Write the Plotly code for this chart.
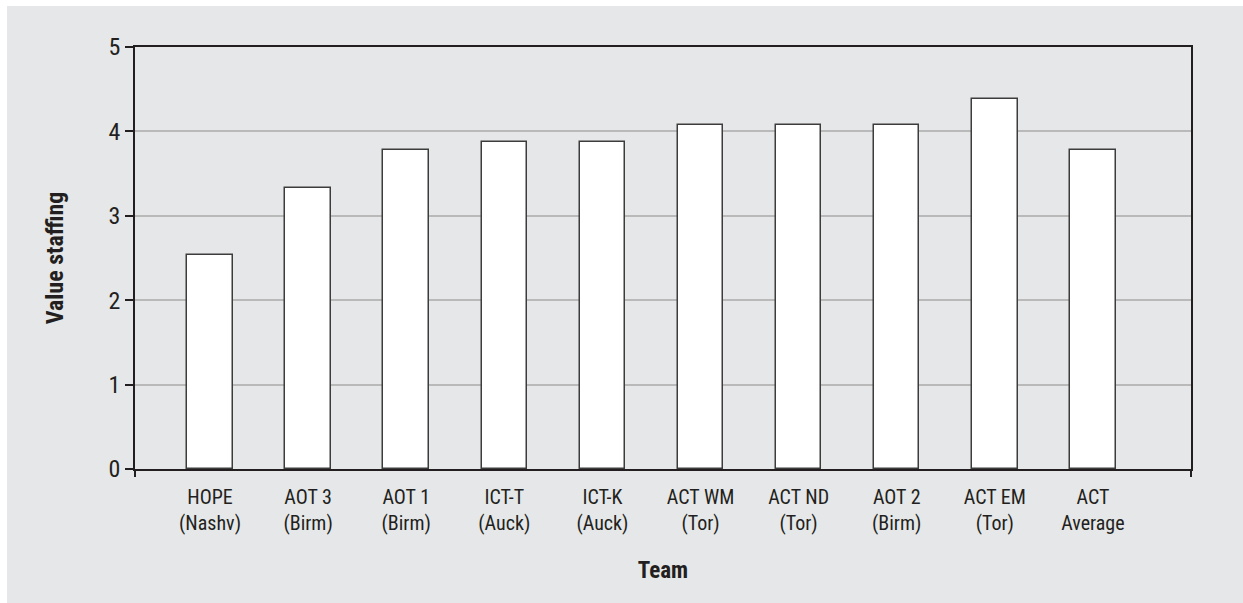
import plotly.graph_objects as go

# Team scores on the value-staffing scale
teams = ["HOPE<br>(Nashv)", "AOT 3<br>(Birm)", "AOT 1<br>(Birm)", "ICT-T<br>(Auck)",
         "ICT-K<br>(Auck)", "ACT WM<br>(Tor)", "ACT ND<br>(Tor)", "AOT 2<br>(Birm)",
         "ACT EM<br>(Tor)", "ACT<br>Average"]
scores = [2.54, 3.33, 3.78, 3.88, 3.88, 4.08, 4.08, 4.08, 4.38, 3.78]
y_ticks = [0, 1, 2, 3, 4, 5]

FONT = "Liberation Sans Narrow, Arial Narrow, Roboto Condensed, Liberation Sans, sans-serif"
INK = "#231f20"
BG = "#e6e7e8"

W, H = 1243, 603
L, R, T, B = 135, 52, 47, 134
x_pos = list(range(len(teams)))
x_range = [-0.765, 10.0]

fig = go.Figure()
fig.add_trace(go.Bar(
    x=x_pos, y=scores, width=0.464,
    marker=dict(color="white", line=dict(color="#3c3c3c", width=1.5)),
    hoverinfo="skip",
))
# invisible helper trace so the secondary x-axis (end ticks) is drawn
fig.add_trace(go.Scatter(x=x_range, y=[0, 0], xaxis="x2", mode="lines",
                         line=dict(width=0), hoverinfo="skip", showlegend=False))

pw, ph = W - L - R, H - T - B
fig.add_shape(type="rect", xref="paper", yref="paper", layer="below",
              x0=(7 - L) / pw, x1=2, y0=-2, y1=(H - B - 6) / ph,
              fillcolor=BG, line=dict(width=0))

fig.update_layout(
    width=W, height=H,
    margin=dict(l=L, r=R, t=T, b=B),
    paper_bgcolor="white", plot_bgcolor="rgba(0,0,0,0)",
    showlegend=False, bargap=0,
    font=dict(family=FONT, color=INK, size=20),
    xaxis=dict(
        range=x_range, tickmode="array", tickvals=x_pos, ticktext=teams,
        showline=True, linecolor=INK, linewidth=1.5, mirror=True,
        showgrid=False, zeroline=False, ticks="outside", ticklen=9,
        tickcolor="rgba(0,0,0,0)", tickfont=dict(size=20, color=INK),
        title=dict(text="<b>Team</b>", font=dict(size=23, color=INK), standoff=28),
    ),
    xaxis2=dict(
        range=x_range, overlaying="x", side="bottom", tickmode="array",
        tickvals=x_range, ticks="outside", ticklen=7, tickwidth=1.5,
        tickcolor=INK, showticklabels=False, showgrid=False, zeroline=False,
        showline=False,
    ),
    yaxis=dict(
        range=[0, 5], tickmode="array", tickvals=y_ticks,
        showline=True, linecolor=INK, linewidth=1.5, mirror=True,
        showgrid=True, gridcolor="#b9b9b9", gridwidth=1.5, zeroline=False,
        ticks="outside", ticklen=8, tickwidth=1.5, tickcolor=INK,
        tickfont=dict(size=24, color=INK),
        title=dict(text="<b>Value staffing</b>", font=dict(size=24, color=INK), standoff=38),
    ),
)

fig.write_html("out.html")
